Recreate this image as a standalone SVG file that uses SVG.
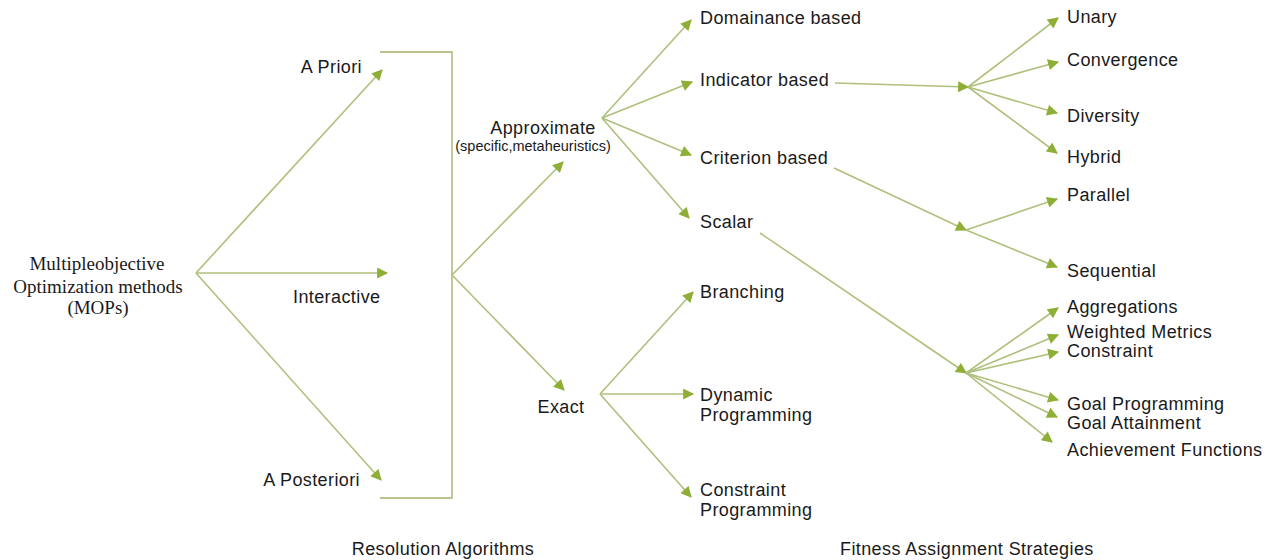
<svg xmlns="http://www.w3.org/2000/svg" width="1271" height="560" viewBox="0 0 1271 560">
<defs>
<style>
.ln{stroke:#afc07c;stroke-width:1.6;fill:none;marker-end:url(#ah)}
.br{stroke:#b9c48f;stroke-width:1.8;fill:none}
.t{font-family:"Liberation Sans",Arial,sans-serif;font-size:18px;letter-spacing:0.4px;fill:#1a1a1a}
.s{font-family:"Liberation Sans",Arial,sans-serif;font-size:14.5px;fill:#1a1a1a}
.sf{font-family:"Liberation Serif","Times New Roman",serif;font-size:19px;fill:#1a1a1a}
</style>
<marker id="ah" viewBox="0 0 10 10" refX="9" refY="5" markerWidth="12" markerHeight="11" markerUnits="userSpaceOnUse" orient="auto">
<path d="M0,0 L10,5 L0,10 z" fill="#8fae36"/>
</marker>
</defs>
<rect width="1271" height="560" fill="#ffffff"/>
<g id="connectors">
<line class="ln" x1="196" y1="273" x2="382" y2="70"/>
<line class="ln" x1="196" y1="273" x2="387" y2="273"/>
<line class="ln" x1="196" y1="273" x2="381" y2="480"/>
<path class="br" d="M380,52 H452 V498 H380"/>
<line class="ln" x1="452" y1="275" x2="563" y2="162"/>
<line class="ln" x1="452" y1="275" x2="564" y2="390"/>
<line class="ln" x1="602" y1="118" x2="691" y2="20"/>
<line class="ln" x1="602" y1="118" x2="692" y2="82"/>
<line class="ln" x1="602" y1="118" x2="691" y2="155"/>
<line class="ln" x1="602" y1="118" x2="689" y2="218"/>
<line class="ln" x1="835" y1="83" x2="968" y2="87"/>
<line class="ln" x1="968" y1="87" x2="1058" y2="18"/>
<line class="ln" x1="968" y1="87" x2="1058" y2="62"/>
<line class="ln" x1="968" y1="87" x2="1057" y2="113"/>
<line class="ln" x1="968" y1="87" x2="1057" y2="153"/>
<line class="ln" x1="834" y1="168" x2="966" y2="230"/>
<line class="ln" x1="966" y1="230" x2="1057" y2="199"/>
<line class="ln" x1="966" y1="230" x2="1057" y2="267"/>
<line class="ln" x1="760" y1="233" x2="966" y2="373"/>
<line class="ln" x1="966" y1="373" x2="1058" y2="308"/>
<line class="ln" x1="966" y1="373" x2="1058" y2="335"/>
<line class="ln" x1="966" y1="373" x2="1058" y2="352"/>
<line class="ln" x1="966" y1="373" x2="1058" y2="400"/>
<line class="ln" x1="966" y1="373" x2="1057" y2="417"/>
<line class="ln" x1="966" y1="373" x2="1052" y2="442"/>
<line class="ln" x1="600" y1="394" x2="693" y2="292"/>
<line class="ln" x1="600" y1="394" x2="693" y2="394"/>
<line class="ln" x1="600" y1="394" x2="691" y2="497"/>
</g>
<g id="mops"><text class="sf" x="97" y="270" text-anchor="middle">Multipleobjective</text><text class="sf" x="98" y="293" text-anchor="middle">Optimization methods</text><text class="sf" x="98" y="314" text-anchor="middle">(MOPs)</text></g>
<g id="apriori"><text class="t" x="362" y="73" text-anchor="end">A Priori</text></g>
<g id="interactive"><text class="t" x="293" y="303">Interactive</text></g>
<g id="aposteriori"><text class="t" x="360" y="486" text-anchor="end">A Posteriori</text></g>
<g id="approximate"><text class="t" x="543" y="134" text-anchor="middle">Approximate</text><text class="s" x="533" y="151" text-anchor="middle">(specific,metaheuristics)</text></g>
<g id="exact"><text class="t" x="561" y="413" text-anchor="middle">Exact</text></g>
<g id="domainance"><text class="t" x="700" y="24">Domainance based</text></g>
<g id="indicator"><text class="t" x="700" y="86">Indicator based</text></g>
<g id="criterion"><text class="t" x="700" y="164">Criterion based</text></g>
<g id="scalar"><text class="t" x="700" y="228">Scalar</text></g>
<g id="branching"><text class="t" x="700" y="298">Branching</text></g>
<g id="dynamic"><text class="t" x="700" y="401">Dynamic</text><text class="t" x="700" y="421">Programming</text></g>
<g id="constraintprog"><text class="t" x="700" y="496">Constraint</text><text class="t" x="700" y="516">Programming</text></g>
<g id="unary"><text class="t" x="1067" y="23">Unary</text></g>
<g id="convergence"><text class="t" x="1067" y="66">Convergence</text></g>
<g id="diversity"><text class="t" x="1067" y="122">Diversity</text></g>
<g id="hybrid"><text class="t" x="1067" y="163">Hybrid</text></g>
<g id="parallel"><text class="t" x="1067" y="201">Parallel</text></g>
<g id="sequential"><text class="t" x="1067" y="277">Sequential</text></g>
<g id="aggregations"><text class="t" x="1067" y="313">Aggregations</text></g>
<g id="weighted"><text class="t" x="1067" y="338">Weighted Metrics</text></g>
<g id="constraint"><text class="t" x="1067" y="357">Constraint</text></g>
<g id="goalprog"><text class="t" x="1067" y="410">Goal Programming</text></g>
<g id="goalatt"><text class="t" x="1067" y="429">Goal Attainment</text></g>
<g id="achievement"><text class="t" x="1067" y="456">Achievement Functions</text></g>
<g id="resolution"><text class="t" x="443" y="555" text-anchor="middle">Resolution Algorithms</text></g>
<g id="fitness"><text class="t" x="840" y="555">Fitness Assignment Strategies</text></g>
</svg>
